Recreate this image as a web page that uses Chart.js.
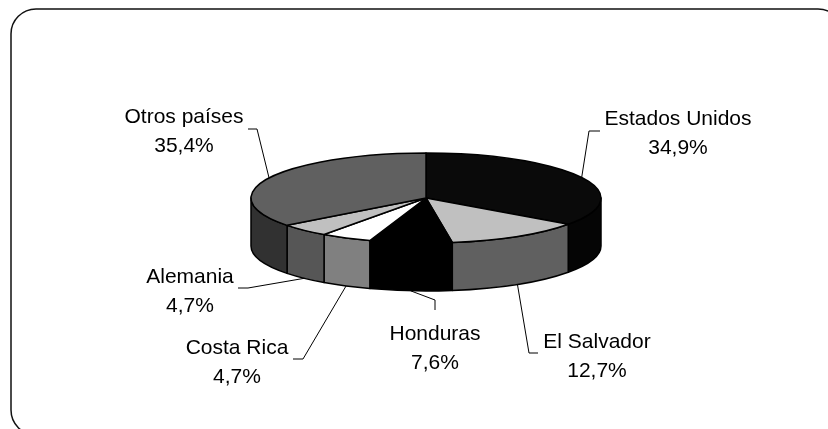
<!DOCTYPE html>
<html>
<head>
<meta charset="utf-8">
<script src="https://cdn.jsdelivr.net/npm/chart.js@4.4.1/dist/chart.umd.min.js"></script>
<style>
  html, body { margin: 0; padding: 0; background: #fff; }
  canvas { display: block; }
</style>
</head>
<body>
<canvas id="exportaciones" width="828" height="429"></canvas>
<script>
const paises = ['Estados Unidos', 'El Salvador', 'Honduras', 'Costa Rica', 'Alemania', 'Otros países'];
const porcentajes = [34.9, 12.7, 7.6, 4.7, 4.7, 35.4];

// colour of the top face and of the side wall of each slice
const colorArriba = ['#0a0a0a', '#c0c0c0', '#000000', '#ffffff', '#c0c0c0', '#606060'];
const colorLado = ['#050505', '#606060', '#000000', '#808080', '#565656', '#313131'];

// label text position (centre of first line) and the bend of its leader line
const etiquetas = [
  { x: 678, y: 119, guia: [[600, 131], [589, 131]] },
  { x: 597, y: 342, guia: [[538, 353], [529, 353]] },
  { x: 435, y: 334, guia: [[435, 310], [435, 300]] },
  { x: 237, y: 348, guia: [[293, 359], [303, 359]] },
  { x: 190, y: 277, guia: [[238, 288], [248, 288]] },
  { x: 184, y: 117, guia: [[248, 129], [257, 129]] }
];

const fmt = v => v.toFixed(1).replace('.', ',') + '%';

// rounded frame around the whole chart
const marco = {
  id: 'marco',
  beforeDraw(chart) {
    const ctx = chart.ctx;
    const x = 11, y = 9, w = 832, h = 426, r = 25;
    ctx.save();
    ctx.beginPath();
    ctx.moveTo(x + r, y);
    ctx.arcTo(x + w, y, x + w, y + h, r);
    ctx.arcTo(x + w, y + h, x, y + h, r);
    ctx.arcTo(x, y + h, x, y, r);
    ctx.arcTo(x, y, x + w, y, r);
    ctx.closePath();
    ctx.lineWidth = 1.5;
    ctx.strokeStyle = '#111';
    ctx.stroke();
    ctx.restore();
  }
};

// draws the pie as a tilted disc with a wall, using the arc geometry chart.js computed
const tarta3d = {
  id: 'tarta3d',
  beforeDatasetsDraw(chart, args, opts) {
    const ctx = chart.ctx;
    const arcs = chart.getDatasetMeta(0).data;
    const cx = arcs[0].x, cy = arcs[0].y, r = arcs[0].outerRadius;
    const ry = r * opts.inclinacion;
    const h = opts.grosor;
    ctx.save();
    ctx.lineWidth = opts.borde;
    ctx.strokeStyle = '#000';
    ctx.lineJoin = 'round';

    // wall, only the front half is visible
    arcs.forEach((arc, i) => {
      const a0 = Math.max(arc.startAngle, 0);
      const a1 = Math.min(arc.endAngle, Math.PI);
      if (a1 <= a0) return;
      ctx.beginPath();
      ctx.ellipse(cx, cy, r, ry, 0, a0, a1);
      ctx.lineTo(cx + r * Math.cos(a1), cy + h + ry * Math.sin(a1));
      ctx.ellipse(cx, cy + h, r, ry, 0, a1, a0, true);
      ctx.closePath();
      ctx.fillStyle = colorLado[i];
      ctx.fill();
      ctx.stroke();
    });

    // top faces
    arcs.forEach((arc, i) => {
      ctx.beginPath();
      ctx.moveTo(cx, cy);
      ctx.ellipse(cx, cy, r, ry, 0, arc.startAngle, arc.endAngle);
      ctx.closePath();
      ctx.fillStyle = colorArriba[i];
      ctx.fill();
      ctx.stroke();
    });
    ctx.restore();
    return false;
  },
  afterDraw(chart, args, opts) {
    const ctx = chart.ctx;
    const arcs = chart.getDatasetMeta(0).data;
    const cx = arcs[0].x, cy = arcs[0].y, r = arcs[0].outerRadius;
    const ry = r * opts.inclinacion;
    const h = opts.grosor;
    ctx.save();
    ctx.font = '21px "Liberation Sans", Arial, sans-serif';
    ctx.fillStyle = '#000';
    ctx.strokeStyle = '#000';
    ctx.lineWidth = 1;
    ctx.textAlign = 'center';
    ctx.textBaseline = 'middle';
    arcs.forEach((arc, i) => {
      const mid = (arc.startAngle + arc.endAngle) / 2;
      const s = Math.sin(mid);
      const ax = cx + r * Math.cos(mid);
      const ay = cy + ry * s + (s > 0 ? h : 0);
      const e = etiquetas[i];
      ctx.beginPath();
      ctx.moveTo(e.guia[0][0], e.guia[0][1]);
      e.guia.slice(1).forEach(p => ctx.lineTo(p[0], p[1]));
      ctx.lineTo(ax, ay);
      ctx.stroke();
      ctx.fillText(paises[i], e.x, e.y);
      ctx.fillText(fmt(porcentajes[i]), e.x, e.y + 29);
    });
    ctx.restore();
  }
};

new Chart(document.getElementById('exportaciones'), {
  type: 'pie',
  data: {
    labels: paises,
    datasets: [{
      data: porcentajes,
      backgroundColor: colorArriba,
      borderWidth: 0
    }]
  },
  plugins: [marco, tarta3d],
  options: {
    responsive: false,
    animation: false,
    layout: { padding: { left: 251, right: 227, top: 0, bottom: 33 } },
    plugins: {
      legend: { display: false },
      tooltip: { enabled: false },
      tarta3d: { inclinacion: 45 / 175, grosor: 48, borde: 1.5 }
    }
  }
});
</script>
</body>
</html>
